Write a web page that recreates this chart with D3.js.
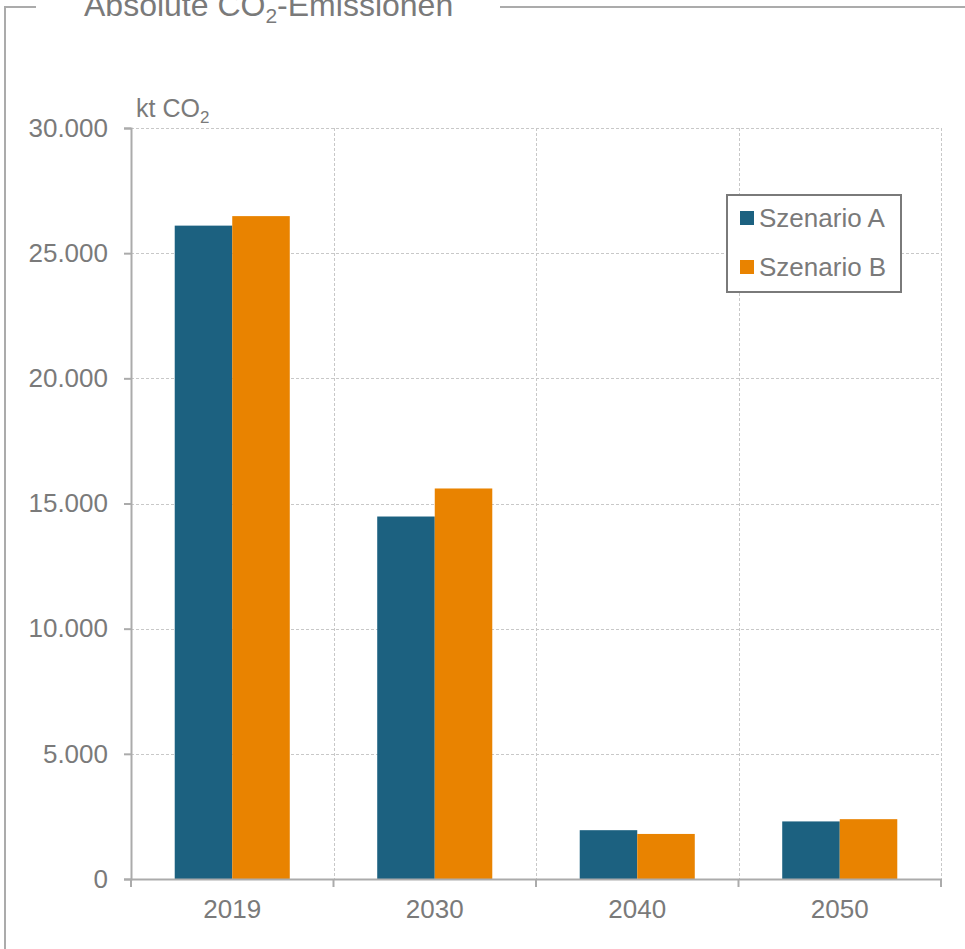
<!DOCTYPE html>
<html>
<head>
<meta charset="utf-8">
<script src="https://cdn.jsdelivr.net/npm/d3@7"></script>
<style>
  body { margin: 0; background: #fff; }
  text { font-family: "Liberation Sans", Arial, sans-serif; fill: #7a7a7a; }
</style>
</head>
<body>
<div class="chart"></div>
<script>
const width = 965;
const height = 949;

const years = ["2019", "2030", "2040", "2050"];
const seriesNames = ["Szenario A", "Szenario B"];
const szenarioA = [26100, 14480, 1950, 2300];
const szenarioB = [26480, 15600, 1800, 2390];
const yTicks = [0, 5000, 10000, 15000, 20000, 25000, 30000];
const colors = ["#1c6180", "#e98300"];

const margin = { left: 131, right: 24, top: 128, bottom: 70 };

const svg = d3.select(".chart").append("svg")
    .attr("width", width)
    .attr("height", height);

// outer frame with the title sitting in the gap
svg.append("path")
    .attr("d", "M36,7 H5 V949 M500,7 H965")
    .attr("fill", "none")
    .attr("stroke", "#ababab")
    .attr("stroke-width", 2);

const title = svg.append("text")
    .attr("x", 84)
    .attr("y", 16)
    .attr("font-size", 32);
title.append("tspan").text("Absolute CO");
title.append("tspan").attr("font-size", 21).attr("dy", 7).text("2");
title.append("tspan").attr("dy", -7).text("-Emissionen");

const x = d3.scaleBand()
    .domain(years)
    .range([margin.left, width - margin.right]);

const xInner = d3.scaleBand()
    .domain(seriesNames)
    .range([0, x.bandwidth()])
    .paddingOuter(0.76);

const y = d3.scaleLinear()
    .domain([0, 30000])
    .range([height - margin.bottom, margin.top]);

// grid
const grid = svg.append("g")
    .attr("stroke", "#c8c8c8")
    .attr("stroke-dasharray", "3,2")
    .attr("stroke-width", 1);
grid.selectAll(".h")
    .data(yTicks.slice(1))
    .join("line")
    .attr("x1", margin.left)
    .attr("x2", width - margin.right)
    .attr("y1", d => Math.round(y(d)) + 0.5)
    .attr("y2", d => Math.round(y(d)) + 0.5);
grid.selectAll(".v")
    .data(years.slice(1).map(d => x(d)).concat([x.range()[1]]))
    .join("line")
    .attr("x1", d => Math.round(d) + 0.5)
    .attr("x2", d => Math.round(d) + 0.5)
    .attr("y1", margin.top)
    .attr("y2", height - margin.bottom);

// bars
const groups = svg.append("g")
    .selectAll("g")
    .data(years)
    .join("g")
    .attr("transform", d => `translate(${x(d)},0)`);

groups.selectAll("rect")
    .data((d, i) => [szenarioA[i], szenarioB[i]].map((v, j) => ({ key: seriesNames[j], value: v, c: colors[j] })))
    .join("rect")
    .attr("x", d => xInner(d.key))
    .attr("width", xInner.bandwidth())
    .attr("y", d => y(d.value))
    .attr("height", d => y(0) - y(d.value))
    .attr("fill", d => d.c);

// y axis
const yAxis = svg.append("g")
    .attr("transform", `translate(${margin.left},0)`)
    .call(d3.axisLeft(y).tickValues(yTicks).tickSize(7).tickPadding(16)
        .tickFormat(d => d3.format(",")(d).replace(/,/g, ".")));
yAxis.select(".domain").attr("stroke", "#ababab").attr("stroke-width", 2);
yAxis.selectAll(".tick line").attr("stroke", "#ababab").attr("stroke-width", 2);
yAxis.selectAll(".tick text").attr("font-size", 26).attr("fill", "#7a7a7a")
    .style("font-family", "'Liberation Sans', Arial, sans-serif");

// x axis
const xAxis = svg.append("g")
    .attr("transform", `translate(0,${height - margin.bottom})`)
    .call(d3.axisBottom(x).tickSize(0).tickPadding(21));
xAxis.select(".domain").attr("stroke", "#ababab").attr("stroke-width", 2);
xAxis.selectAll(".tick text").attr("font-size", 26).attr("fill", "#7a7a7a")
    .style("font-family", "'Liberation Sans', Arial, sans-serif");
xAxis.selectAll(".sep")
    .data(years.map(d => x(d)).concat([x.range()[1]]))
    .join("line")
    .attr("x1", d => d)
    .attr("x2", d => d)
    .attr("y1", 0)
    .attr("y2", 8)
    .attr("stroke", "#ababab")
    .attr("stroke-width", 2);

// unit label
const unit = svg.append("text")
    .attr("x", 136)
    .attr("y", 117)
    .attr("font-size", 25);
unit.append("tspan").text("kt CO");
unit.append("tspan").attr("font-size", 17).attr("dy", 6).text("2");

// legend
const legend = svg.append("g").attr("transform", "translate(727,195)");
legend.append("rect")
    .attr("width", 174)
    .attr("height", 97)
    .attr("fill", "#fff")
    .attr("stroke", "#7a7a7a")
    .attr("stroke-width", 2);
seriesNames.forEach((name, i) => {
    legend.append("rect")
        .attr("x", 13)
        .attr("y", 16 + i * 49)
        .attr("width", 14)
        .attr("height", 14)
        .attr("fill", colors[i]);
    legend.append("text")
        .attr("x", 32)
        .attr("y", 32 + i * 49)
        .attr("font-size", 26)
        .text(name);
});
</script>
</body>
</html>
